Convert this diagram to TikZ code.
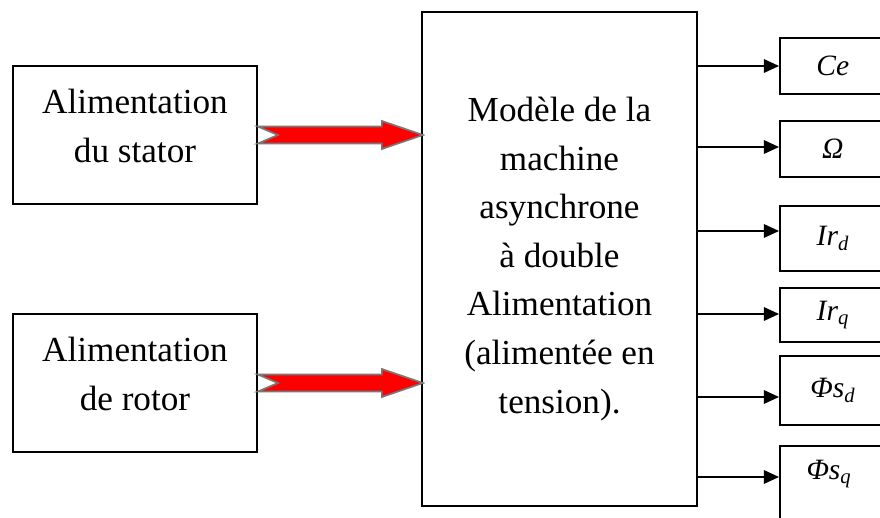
\documentclass[tikz,border=0pt]{standalone}
\usepackage{amsmath}
\usepackage{fontspec}
\setmainfont{Liberation Serif}
\usepackage{tikz}
\usetikzlibrary{positioning,arrows.meta,calc}
\definecolor{powercolor}{RGB}{255,0,0}
\definecolor{edgecolor}{RGB}{120,120,120}
\tikzset{
  block/.style={
    draw,
    line width=1.2pt,
    fill=white,
    align=center,
    inner sep=2pt,
    font=\fontsize{25}{34.5}\selectfont
  },
  source/.style={
    block,
    minimum width=6.1cm,
    minimum height=3.45cm,
    label={[align=center, yshift=0.22cm, font=\fontsize{25}{34.5}\selectfont]center:#1}
  },
  outbox/.style={
    block,
    minimum width=2.65cm,
    anchor=north west,
    font=\fontsize{21}{24}\selectfont\itshape
  },
  outarrow/.style={
    -{Triangle[length=0.38cm,width=0.34cm]},
    line width=1.1pt
  },
  power/.style={
    draw=edgecolor,
    fill=powercolor,
    line width=1.2pt,
    line join=miter
  }
}

\begin{document}
\begin{tikzpicture}[x=0.025cm,y=-0.025cm]

  \useasboundingbox (0,0) rectangle (880,518);
  \clip (0,0) rectangle (880,518);

  % Sources
  \node[source={Alimentation\\du stator}] (stator) at (135,135) {};
  \node[source={Alimentation\\de rotor}] (rotor) at (135,383) {};

  % Machine
  \node[block, minimum width=6.875cm, minimum height=12.35cm] (mada) at (559.5,259)
    {Modèle de la\\machine\\asynchrone\\à double\\Alimentation\\(alimentée en\\tension).};

  % Outputs
  \node[outbox, minimum height=1.4cm] (ce) at (779,37) {Ce};
  \node[outbox, minimum height=1.4cm] (omega) at (779,120) {Ω};
  \node[outbox, minimum height=1.625cm] (ird) at (779,205) {Ir$_{\textit{d}}$};
  \node[outbox, minimum height=1.35cm] (irq) at (779,287) {Ir$_{\textit{q}}$};
  \node[outbox, minimum height=1.725cm] (phisd) at (779,355) {Φs$_{\textit{d}}$};
  \node[outbox, minimum height=2.4cm] (phisq) at (779,445) {};
  \node[font=\fontsize{21}{24}\selectfont\itshape] (phisqlabel) at (829,474) {Φs$_{\textit{q}}$};

  % Power arrows
  \foreach \src in {stator,rotor}{
    \begin{scope}[shift={(\src.east)}]
      \path[power] (0,-8.5) -- (124,-8.5) -- (124,-14) -- (165,0) -- (124,14)
        -- (124,8.5) -- (0,8.5) -- (20,0) -- cycle;
    \end{scope}
  }

  % Connections
  \draw[outarrow] (mada.east |- 0,66) -- (ce.west |- 0,66);
  \draw[outarrow] (mada.east |- 0,147) -- (omega.west |- 0,147);
  \draw[outarrow] (mada.east |- 0,231) -- (ird.west |- 0,231);
  \draw[outarrow] (mada.east |- 0,314) -- (irq.west |- 0,314);
  \draw[outarrow] (mada.east |- 0,397) -- (phisd.west |- 0,397);
  \draw[outarrow] (mada.east |- 0,477) -- (phisq.west |- 0,477);

\end{tikzpicture}
\end{document}
